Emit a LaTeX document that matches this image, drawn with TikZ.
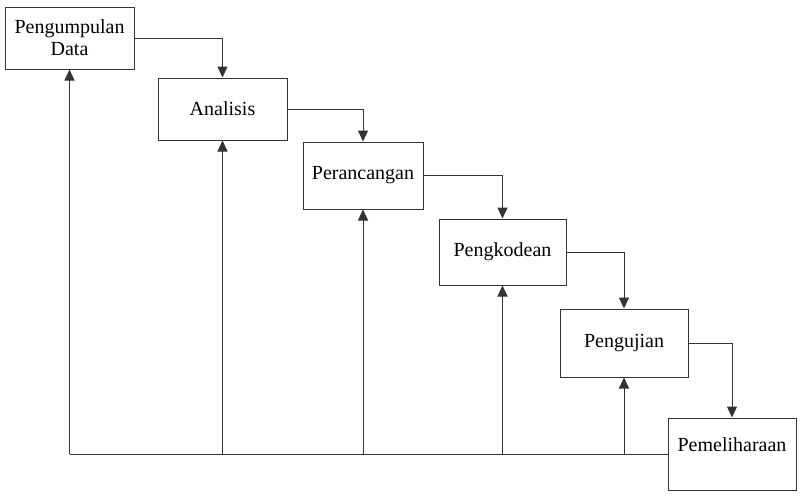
\documentclass[tikz,border=0pt]{standalone}
\usepackage{fontspec}
\setmainfont{Liberation Serif}
\usetikzlibrary{arrows.meta}
\begin{document}
\begin{tikzpicture}[x=1pt,y=-1pt,
  box/.style={draw=black!80,line width=1pt,fill=white,inner sep=0pt,align=center,
    font=\fontsize{20}{22}\selectfont},
  link/.style={draw=black!80,line width=1pt,-{Triangle[length=11pt,width=10pt]}},
  plain/.style={draw=black!80,line width=1pt}]
\useasboundingbox (0,0) rectangle (807,499);
\node[box,minimum width=129pt,minimum height=62pt] (b1) at (69.5,38) {Pengumpulan\\Data};
\node[box,minimum width=129pt,minimum height=62pt] (b2) at (222.5,109) {Analisis};
\node[box,minimum width=120pt,minimum height=67pt] (b3) at (363,175.5) {Perancangan};
\node[box,minimum width=127pt,minimum height=66pt] (b4) at (502.5,252) {Pengkodean};
\node[box,minimum width=128pt,minimum height=68pt] (b5) at (624,343) {Pengujian};
\node[box,minimum width=128pt,minimum height=72pt] (b6) at (732,454) {};
\node[font=\fontsize{20}{22}\selectfont,inner sep=0pt] (t6) at (732,445) {Pemeliharaan};
\draw[link] (b1.east) -| (b2.north);
\draw[link] (b2.east) -| (b3.north);
\draw[link] (b3.east) -| (b4.north);
\draw[link] (b4.east) -| (b5.north);
\draw[link] (b5.east) -| (b6.north);
\draw[plain] (b6.west) -- (b1.south |- b6.west);
\draw[link] (b1.south |- b6.west) -- (b1.south);
\draw[link] (b2.south |- b6.west) -- (b2.south);
\draw[link] (b3.south |- b6.west) -- (b3.south);
\draw[link] (b4.south |- b6.west) -- (b4.south);
\draw[link] (b5.south |- b6.west) -- (b5.south);
\end{tikzpicture}
\end{document}
